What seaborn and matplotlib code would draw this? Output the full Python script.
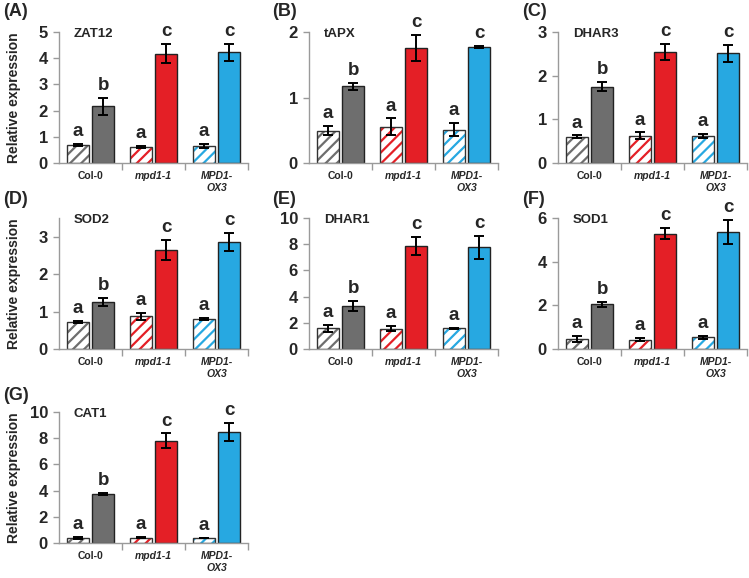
import numpy as np
import pandas as pd
import matplotlib
matplotlib.use('Agg')
import matplotlib.pyplot as plt
import seaborn as sns
from matplotlib.patches import Rectangle

sns.set_theme(style='white')
plt.rcParams['font.family'] = ['Liberation Sans', 'DejaVu Sans']
plt.rcParams['hatch.linewidth'] = 1.6

# ---------------- data ----------------
genotypes = ['Col-0', 'mpd1-1', 'MPD1-OX3']
tick_labels = ['Col-0', 'mpd1-1', 'MPD1-\nOX3']
tick_italic = [False, True, True]
treatments = ['control', 'treated']
panel_ids = ['(A)', '(B)', '(C)', '(D)', '(E)', '(F)', '(G)']
genes = ['ZAT12', 'tAPX', 'DHAR3', 'SOD2', 'DHAR1', 'SOD1', 'CAT1']

ctrl_mean = [[0.67, 0.61, 0.65], [0.49, 0.55, 0.51], [0.60, 0.62, 0.62],
             [0.73, 0.87, 0.80], [1.58, 1.55, 1.58], [0.47, 0.43, 0.53],
             [0.38, 0.41, 0.38]]
ctrl_err = [[0.04, 0.05, 0.06], [0.07, 0.13, 0.10], [0.03, 0.08, 0.04],
            [0.03, 0.10, 0.03], [0.25, 0.20, 0.03], [0.13, 0.06, 0.05],
            [0.05, 0.05, 0.03]]
trt_mean = [[2.16, 4.17, 4.22], [1.17, 1.76, 1.77], [1.75, 2.54, 2.51],
            [1.25, 2.65, 2.85], [3.29, 7.85, 7.75], [2.04, 5.29, 5.38],
            [3.71, 7.81, 8.45]]
trt_err = [[0.34, 0.37, 0.33], [0.05, 0.20, 0.02], [0.10, 0.18, 0.20],
           [0.11, 0.27, 0.24], [0.36, 0.70, 0.88], [0.13, 0.26, 0.55],
           [0.08, 0.55, 0.70]]
ctrl_letters = ['a', 'a', 'a']
trt_letters = ['b', 'c', 'c']
y_max = [5, 2, 3, 3.5, 10, 6, 10]
y_step = [1, 1, 1, 1, 2, 2, 2]

geno_colors = ['#6e6e6e', '#e41f26', '#27a8e1']

# ---------------- layout (pixels) ----------------
W, H = 749, 578
col_left = [59, 309, 558]
ax_w = 189
row_top = [32, 218, 412]
ax_h = 131
label_x = [3, 272, 522]
label_y = [11, 200, 396]

fig = plt.figure(figsize=(W / 100, H / 100), dpi=100)
spine_col = '#9a9a9a'

for i, gene in enumerate(genes):
    r, c = divmod(i, 3)
    left, top = col_left[c], row_top[r]
    ax = fig.add_axes([left / W, (H - top - ax_h) / H, ax_w / W, ax_h / H])

    df = pd.DataFrame({
        'genotype': genotypes * 2,
        'treatment': ['control'] * 3 + ['treated'] * 3,
        'value': ctrl_mean[i] + trt_mean[i],
    })
    sns.barplot(data=df, x='genotype', y='value', hue='treatment',
                order=genotypes, hue_order=treatments, palette=['white', 'grey'],
                width=0.8, gap=0.15, errorbar=None, legend=False,
                edgecolor='#222222', linewidth=1.0, ax=ax)

    ctrl_bars, trt_bars = ax.containers[0], ax.containers[1]
    for j, bar in enumerate(ctrl_bars):
        bar.set_facecolor('white')
        bar.set_edgecolor(geno_colors[j])
        bar.set_hatch('///')
        bar.set_linewidth(0)
        ax.add_patch(Rectangle((bar.get_x(), bar.get_y()), bar.get_width(),
                               bar.get_height(), fill=False, edgecolor='#333333',
                               linewidth=1.0, zorder=bar.get_zorder() + 0.1))
    for j, bar in enumerate(trt_bars):
        bar.set_facecolor(geno_colors[j])
        bar.set_edgecolor('#222222')

    for bars, means, errs, letters in [(ctrl_bars, ctrl_mean[i], ctrl_err[i], ctrl_letters),
                                       (trt_bars, trt_mean[i], trt_err[i], trt_letters)]:
        xs = [b.get_x() + b.get_width() / 2 for b in bars]
        ax.errorbar(xs, means, yerr=errs, fmt='none', ecolor='black',
                    elinewidth=1.4, capsize=3.5, capthick=1.4, zorder=5)
        for x, m, e, lt in zip(xs, means, errs, letters):
            ax.text(x, m + e + 0.03 * y_max[i], lt, ha='center', va='bottom',
                    fontsize=13.5, fontweight='bold', clip_on=False)

    ax.set_xlim(-0.5, 2.5)
    ax.set_ylim(0, y_max[i])
    ax.set_yticks(np.arange(0, y_max[i] + 1e-9, y_step[i]))
    ax.set_yticklabels([f'{int(v)}' for v in ax.get_yticks()],
                       fontsize=12, fontweight='bold')
    ax.set_xticks(range(3))
    ax.set_xticklabels(tick_labels, fontsize=7.5, fontweight='bold')
    for lab, it in zip(ax.get_xticklabels(), tick_italic):
        if it:
            lab.set_fontstyle('italic')
    ax.set_xticks([0.5, 1.5, 2.5], minor=True)
    ax.tick_params(axis='x', which='major', length=0, pad=6)
    ax.tick_params(axis='x', which='minor', length=5, width=1, color=spine_col,
                   direction='out', bottom=True)
    ax.tick_params(axis='y', length=4, width=1, color=spine_col,
                   direction='out', left=True, pad=4)
    for s in ['top', 'right']:
        ax.spines[s].set_visible(False)
    for s in ['left', 'bottom']:
        ax.spines[s].set_color(spine_col)
        ax.spines[s].set_linewidth(1.0)
    ax.set_xlabel('')
    if c == 0:
        ax.set_ylabel('Relative expression', fontsize=10, fontweight='bold')
        ax.yaxis.set_label_coords(-(left - 21) / ax_w, 0.5)
    else:
        ax.set_ylabel('')

    ax.text(15 / ax_w, 0.985, gene, transform=ax.transAxes, ha='left',
            va='center', fontsize=9.5, fontweight='bold')

    fig.text(label_x[c] / W, 1 - label_y[r] / H, panel_ids[i], ha='left',
             va='center', fontsize=13, fontweight='bold')

fig.savefig('out.png', dpi=100, facecolor='white')
